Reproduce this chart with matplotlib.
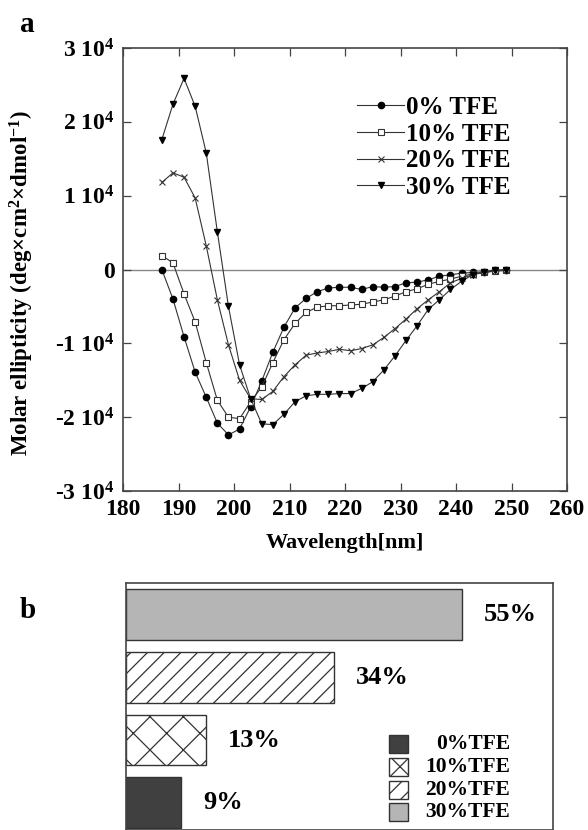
import matplotlib

matplotlib.use("Agg")
import matplotlib.pyplot as plt
from matplotlib.patches import Rectangle
import numpy as np

plt.rcParams["font.family"] = ["Liberation Serif", "DejaVu Serif"]
plt.rcParams["font.weight"] = "bold"
plt.rcParams["mathtext.fontset"] = "custom"
plt.rcParams["mathtext.rm"] = "Liberation Serif:bold"
plt.rcParams["mathtext.bf"] = "Liberation Serif:bold"
plt.rcParams["mathtext.default"] = "bf"
plt.rcParams["hatch.linewidth"] = 0.9

# panel a: CD spectra, values in units of 1e4 deg cm2 dmol-1
wavelength = [187, 189, 191, 193, 195, 197, 199, 201, 203, 205, 207, 209, 211, 213, 215, 217,
              219, 221, 223, 225, 227, 229, 231, 233, 235, 237, 239, 241, 243, 245, 247, 249]
tfe_0 = [0.0, -0.40, -0.91, -1.39, -1.73, -2.08, -2.24, -2.16, -1.86, -1.51, -1.12, -0.78, -0.52, -0.39, -0.30, -0.25,
         -0.24, -0.24, -0.27, -0.23, -0.24, -0.23, -0.18, -0.17, -0.14, -0.09, -0.07, -0.05, -0.04, -0.03, -0.01, -0.01]
tfe_10 = [0.19, 0.09, -0.33, -0.71, -1.26, -1.77, -2.00, -2.02, -1.79, -1.59, -1.26, -0.95, -0.73, -0.58, -0.51, -0.49,
          -0.49, -0.48, -0.47, -0.44, -0.41, -0.36, -0.30, -0.26, -0.20, -0.16, -0.13, -0.09, -0.06, -0.04, -0.02, -0.01]
tfe_20 = [1.18, 1.31, 1.25, 0.97, 0.32, -0.41, -1.02, -1.50, -1.75, -1.76, -1.65, -1.45, -1.29, -1.16, -1.13, -1.11,
          -1.08, -1.10, -1.07, -1.02, -0.92, -0.80, -0.67, -0.53, -0.41, -0.30, -0.18, -0.12, -0.07, -0.04, -0.02, -0.01]
tfe_30 = [1.76, 2.24, 2.59, 2.21, 1.58, 0.51, -0.50, -1.29, -1.75, -2.09, -2.10, -1.96, -1.79, -1.71, -1.69, -1.69,
          -1.68, -1.68, -1.61, -1.52, -1.36, -1.17, -0.96, -0.76, -0.54, -0.41, -0.27, -0.16, -0.07, -0.03, -0.01, 0.0]
series_labels = ["0% TFE", "10% TFE", "20% TFE", "30% TFE"]

x_ticks = [180, 190, 200, 210, 220, 230, 240, 250, 260]
y_ticks = [-3e4, -2e4, -1e4, 0, 1e4, 2e4, 3e4]
y_tick_labels = ["-3 10$^4$", "-2 10$^4$", "-1 10$^4$", "0", "1 10$^4$", "2 10$^4$", "3 10$^4$"]

# panel b: helix content
bar_labels = ["0%TFE", "10%TFE", "20%TFE", "30%TFE"]
helix_pct = [9, 13, 34, 55]

fig = plt.figure(figsize=(5.88, 8.30), dpi=100)

# ---- panel a
ax = fig.add_axes([0.2092, 0.4084, 0.7551, 0.5337])
styles = [
    dict(marker="o", mfc="black", mec="black", ms=4.5),
    dict(marker="s", mfc="white", mec="#333333", ms=4.6, mew=0.8),
    dict(marker="x", mfc="none", mec="#333333", ms=5, mew=0.8),
    dict(marker="v", mfc="black", mec="black", ms=5),
]
ax.axhline(0, color="#888888", lw=1.0, zorder=1)
for vals, lab, st in zip([tfe_0, tfe_10, tfe_20, tfe_30], series_labels, styles):
    ax.plot(wavelength, np.array(vals) * 1e4, color="#333333", lw=0.8, label=lab, zorder=3, **st)

ax.set_xlim(180, 260)
ax.set_ylim(-3e4, 3e4)
ax.set_xticks(x_ticks)
ax.set_yticks(y_ticks)
ax.set_yticklabels(y_tick_labels)
ax.tick_params(direction="in", top=True, right=True, length=6, width=0.9, color="#444444",
               labelsize=17, pad=6)
for sp in ax.spines.values():
    sp.set_color("#444444")
    sp.set_linewidth(1.2)
ax.set_xlabel("Wavelength[nm]", fontsize=16, fontweight="bold")
ax.xaxis.set_label_coords(0.5, -0.095)
ax.set_ylabel("Molar ellipticity (deg×cm$^2$×dmol$^{-1}$)", fontsize=16.5, fontweight="bold")
ax.yaxis.set_label_coords(-0.195, 0.47)
ax.legend(loc="upper left", bbox_to_anchor=(0.527, 0.892), frameon=False, fontsize=18,
          handlelength=1.9, handletextpad=0.05, labelspacing=0.15, borderpad=0, borderaxespad=0)

fig.text(20 / 588, 1 - 32 / 830, "a", fontsize=21, fontweight="bold", va="baseline")

# ---- panel b
axb = fig.add_axes([0.2151, 0.0, 0.7254, 0.2980])
fills = ["#404040", "white", "white", "#b5b5b5"]
hatches = [None, "x", "//", None]
ypos = np.arange(len(helix_pct))
for y, v, fc, h in zip(ypos, helix_pct, fills, hatches):
    axb.barh(y, v, height=0.81, color=fc, edgecolor="#333333", hatch=h, lw=1.0)
    axb.text(v + 3.6, y, f"{v}%", fontsize=19, fontweight="bold", va="center", ha="left")
axb.set_xlim(0, 70)
axb.set_ylim(-0.435, 3.509)
axb.set_xticks([])
axb.set_yticks([])
for sp in axb.spines.values():
    sp.set_color("#444444")
    sp.set_linewidth(1.2)

leg_rows = [0.348, 0.255, 0.162, 0.073]
for row, lab, fc, h in zip(leg_rows, bar_labels, fills, hatches):
    axb.add_patch(Rectangle((0.6155, row - 0.036), 0.0445, 0.073, transform=axb.transAxes,
                            facecolor=fc, edgecolor="#333333", hatch=h, lw=1.0))
    axb.text(0.899, row, lab, transform=axb.transAxes, fontsize=15.5, fontweight="bold",
             ha="right", va="center")

fig.text(20 / 588, 1 - 618 / 830, "b", fontsize=21, fontweight="bold", va="baseline")

fig.savefig("out.png", dpi=100)
